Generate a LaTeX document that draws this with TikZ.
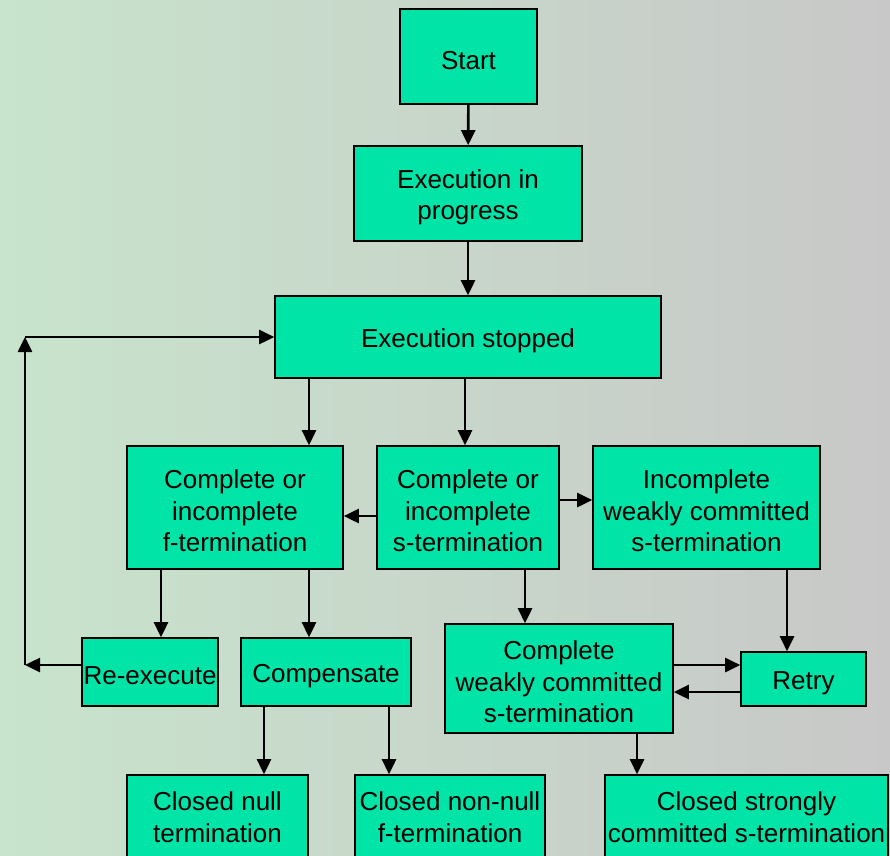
\documentclass[tikz,border=0pt]{standalone}
\usepackage{fontspec}
\setmainfont{Liberation Sans}
\usetikzlibrary{arrows.meta}
\definecolor{boxfill}{RGB}{0,228,168}
\definecolor{bgleft}{RGB}{200,228,204}
\definecolor{bgright}{RGB}{200,200,200}
\newcommand\up{\rule{0pt}{26pt}}
\begin{document}
\begin{tikzpicture}[x=1pt,y=-1pt,
  box/.style={draw=black,line width=1.6pt,fill=boxfill,inner sep=0pt,align=center,
    font=\fontsize{26}{31.5}\selectfont},
  arr/.style={line width=2.6pt,-{Triangle[length=15pt,width=14pt]}}]
\useasboundingbox (0,0) rectangle (890,855);
\clip (0,0) rectangle (890,855);
\shade[left color=bgleft,right color=bgright] (0,0) rectangle (890,855);

\node[box,minimum width=137pt,minimum height=95pt] (start) at (468.5,56.5) {\up Start};
\node[box,minimum width=228pt,minimum height=95pt] (prog) at (468,193.5) {\up Execution in\\progress};
\node[box,minimum width=386pt,minimum height=82pt] (stopped) at (468,337) {\up Execution stopped};
\node[box,minimum width=216pt,minimum height=123pt] (fterm) at (235,507.5) {\up Complete or\\incomplete\\f-termination};
\node[box,minimum width=182pt,minimum height=123pt] (sterm) at (468,507.5) {\up Complete or\\incomplete\\s-termination};
\node[box,minimum width=227pt,minimum height=123pt] (iweak) at (706.5,507.5) {\up Incomplete\\weakly committed\\s-termination};
\node[box,minimum width=136pt,minimum height=68pt] (reexec) at (150,672) {\up Re-execute};
\node[box,minimum width=170pt,minimum height=68pt] (comp) at (326,672) {\up Compensate};
\node[box,minimum width=228pt,minimum height=109pt] (cweak) at (559,678.5) {\up Complete\\weakly committed\\s-termination};
\node[box,minimum width=125pt,minimum height=54pt] (retry) at (803.5,679) {\up Retry};
\node[box,minimum width=181pt,minimum height=84pt] (cnull) at (217.5,817) {Closed null\\termination};
\node[box,minimum width=190pt,minimum height=84pt] (cnonnull) at (450,817) {Closed non-null\\f-termination};
\node[box,minimum width=283pt,minimum height=84pt] (cstrong) at (746.5,817) {Closed strongly\\committed s-termination};

\coordinate (lb) at (25,665);
\coordinate (lt) at (25,337);

\draw[arr] (start) -- (prog);
\draw[arr] (prog) -- (stopped);
\draw[arr] (stopped.south -| 309,0) -- (fterm.north -| 309,0);
\draw[arr] (stopped.south -| 465,0) -- (sterm.north -| 465,0);
\draw[arr] (sterm.west |- 0,516) -- (fterm.east |- 0,516);
\draw[arr] (sterm.east |- 0,500) -- (iweak.west |- 0,500);
\draw[arr] (fterm.south -| 161,0) -- (reexec.north -| 161,0);
\draw[arr] (fterm.south -| 309,0) -- (comp.north -| 309,0);
\draw[arr] (sterm.south -| 525,0) -- (cweak.north -| 525,0);
\draw[arr] (iweak.south -| 787,0) -- (retry.north -| 787,0);
\draw[arr] (cweak.east |- 0,665) -- (retry.west |- 0,665);
\draw[arr] (retry.west |- 0,692) -- (cweak.east |- 0,692);
\draw[arr] (reexec.west |- lb) -- (lb);
\draw[arr] (lb) -- (lt);
\draw[arr] (lt) -- (stopped.west |- lt);
\draw[arr] (comp.south -| 264,0) -- (cnull.north -| 264,0);
\draw[arr] (comp.south -| 389,0) -- (cnonnull.north -| 389,0);
\draw[arr] (cweak.south -| 637,0) -- (cstrong.north -| 637,0);
\end{tikzpicture}
\end{document}
